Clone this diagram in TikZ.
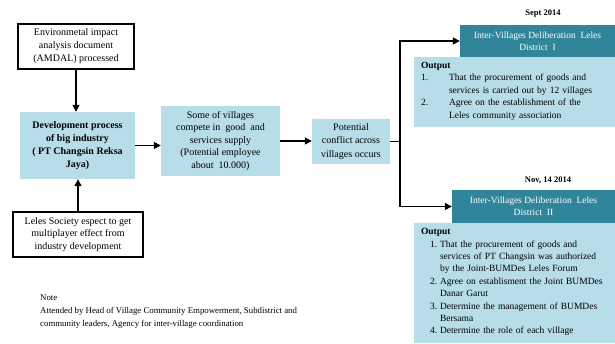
\documentclass[tikz,border=0pt]{standalone}
\usepackage{fontspec}
\setmainfont{Liberation Serif}
\usetikzlibrary{arrows.meta}

\definecolor{paleblue}{RGB}{183,221,232}
\definecolor{deepteal}{RGB}{49,133,155}

\tikzset{
  flowarrow/.style={line width=1.4pt, -{Triangle[length=7pt,width=7pt]}},
  flowline/.style={line width=1.4pt},
  framebox/.style={draw, line width=1.3pt, fill=white, align=center, inner sep=0pt,
    font=\fontsize{10}{13}\selectfont},
  bluebox/.style={fill=paleblue, align=center, inner sep=0pt,
    font=\fontsize{10}{12.8}\selectfont},
  headbox/.style={fill=deepteal, text=white, align=center, inner sep=0pt,
    font=\fontsize{9.5}{12}\selectfont},
  outbox/.style={fill=paleblue, align=left, inner xsep=7pt, inner ysep=0pt,
    font=\fontsize{9.5}{12.4}\selectfont},
  datelabel/.style={inner sep=0pt, font=\bfseries\fontsize{8.5}{10}\selectfont},
}

\begin{document}
\begin{tikzpicture}[x=1pt, y=-1pt]
\useasboundingbox (0,0) rectangle (615,343);

% left column
\node[framebox, minimum width=116pt, minimum height=45pt] (amdal) at (76,46.5)
  {Environmetal impact\\analysis document\\(AMDAL) processed};
\node[bluebox, minimum width=115pt, minimum height=67pt, font=\bfseries\fontsize{10}{13}\selectfont] (dev) at (77.5,145.5)
  {Development process\\of big industry\\( PT Changsin Reksa\\Jaya)};
\node[framebox, minimum width=130pt, minimum height=45pt, font=\fontsize{10}{12.7}\selectfont] (society) at (78,234.5)
  {Leles Society espect to get\\multiplayer effect from\\industry development};

% middle
\node[bluebox, minimum width=119pt, minimum height=70pt, font=\fontsize{10}{12.5}\selectfont] (villages) at (220.5,141)
  {Some of villages\\compete in~ good~ and\\services supply\\(Potential employee\\about~ 10.000)};
\node[bluebox, minimum width=78pt, minimum height=45pt, font=\fontsize{10}{13.3}\selectfont] (conflict) at (351,141.5)
  {Potential\\conflict across\\villages occurs};

% right column
\node[datelabel] (date1) at (543,14) {Sept 2014};
\node[headbox, minimum width=155pt, minimum height=32pt] (head1) at (537.5,41)
  {Inter-Villages Deliberation~ Leles\\District~ I};
\node[outbox, minimum width=201pt, minimum height=70pt, text width=187pt] (out1) at (514.5,92)
  {\textbf{Output}\\
   \begin{tabular}[t]{@{}p{28pt}@{}l@{}}
   1. & That the procurement of goods and\\
      & services is carried out by 12 villages\\
   2. & Agree on the establishment of the\\
      & Leles community association
   \end{tabular}};

\node[datelabel] (date2) at (548,180) {Nov, 14 2014};
\node[headbox, minimum width=163pt, minimum height=33pt] (head2) at (533.5,206.5)
  {Inter-Villages Deliberation~ Leles\\District~ II};
\node[outbox, minimum width=201pt, minimum height=120pt, text width=187pt] (out2) at (514.5,283)
  {\textbf{Output}\\
   \hspace*{9pt}\begin{tabular}[t]{@{}p{10pt}@{}l@{}}
   1. & That the procurement of goods and\\
      & services of PT Changsin was authorized\\
      & by the Joint-BUMDes Leles Forum\\
   2. & Agree on establisment the Joint BUMDes\\
      & Danar Garut\\
   3. & Determine the management of BUMDes\\
      & Bersama\\
   4. & Determine the role of each village
   \end{tabular}};

% note
\node[align=left, inner sep=0pt, anchor=west, font=\fontsize{8.8}{13}\selectfont] (note) at (40,312)
  {Note\\
   Attended by Head of Village Community Empowerment, Subdistrict and\\
   community leaders, Agency for inter-village coordination};

% connectors
\draw[flowarrow] (amdal.south) -- (amdal.south |- dev.north);
\draw[flowarrow] (society.north) -- (society.north |- dev.south);
\draw[flowarrow] (dev.east) -- (dev.east -| villages.west);
\draw[flowarrow] (villages.east) -- (villages.east -| conflict.west);
\coordinate (split) at (400,141.5);
\draw[flowline] (conflict.east) -- (split);
\draw[flowarrow] (split) |- (head1.west);
\draw[flowarrow] (split) |- (head2.west);
\end{tikzpicture}
\end{document}
